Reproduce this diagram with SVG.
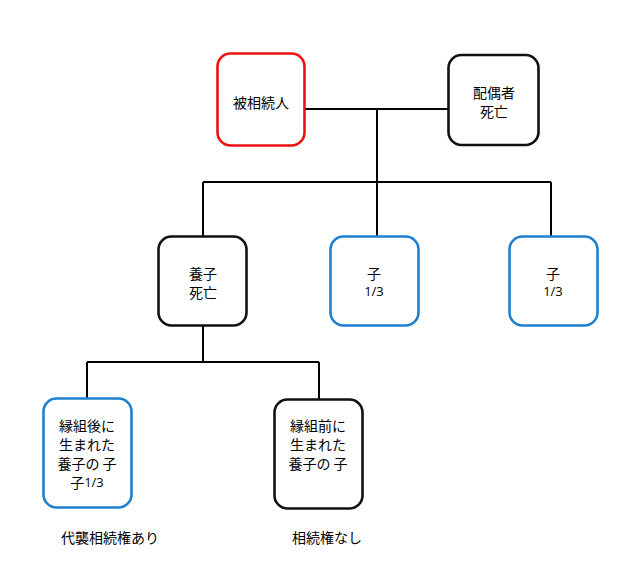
<svg xmlns="http://www.w3.org/2000/svg" width="635" height="569" viewBox="0 0 635 569">
<style>
.box{fill:#fff;stroke-width:2.6}
.red{stroke:#ee1111}
.blk{stroke:#111}
.blu{stroke:#1f7fd0}
.t{font-family:"Noto Sans CJK JP","Noto Sans",sans-serif;font-size:14px;fill:#000;text-anchor:middle;dominant-baseline:central}
.n{font-family:"Open Sans","Liberation Sans",sans-serif;font-size:13px}
.c{fill:none;stroke:#000;stroke-width:2}
</style>
<rect width="635" height="569" fill="#fff"/>
<g id="connectors">
<path class="c" d="M305 109H448M377 109V182M203 182H551M203 182V236M377 182V236M551 182V236"/>
<path class="c" d="M203 325V362M87 362H319M87 362V398M319 362V399"/>
</g>
<g id="decedent">
<rect class="box red" x="217.5" y="53.5" width="87" height="92" rx="13"/>
<text class="t" x="261" y="102">被相続人</text>
</g>
<g id="spouse">
<rect class="box blk" x="448.5" y="55" width="90" height="90" rx="13"/>
<text class="t" x="494" y="92">配偶者</text>
<text class="t" x="494" y="111">死亡</text>
</g>
<g id="adopted">
<rect class="box blk" x="158.5" y="236.5" width="88" height="89" rx="13"/>
<text class="t" x="203" y="273">養子</text>
<text class="t" x="203" y="292">死亡</text>
</g>
<g id="child1">
<rect class="box blu" x="330.5" y="236.5" width="88" height="89" rx="13"/>
<text class="t" x="374" y="273">子</text>
<text class="t n" x="374" y="291">1/3</text>
</g>
<g id="child2">
<rect class="box blu" x="509.5" y="236.5" width="88" height="89" rx="13"/>
<text class="t" x="553" y="273">子</text>
<text class="t n" x="553" y="291">1/3</text>
</g>
<g id="grandchild-after">
<rect class="box blu" x="43.5" y="398.5" width="88" height="109" rx="13"/>
<text class="t" x="87" y="425">縁組後に</text>
<text class="t" x="87" y="444">生まれた</text>
<text class="t" x="87" y="463">養子の 子</text>
<text class="t" x="87" y="482">子<tspan class="n">1/3</tspan></text>
</g>
<g id="grandchild-before">
<rect class="box blk" x="274.5" y="399.5" width="88" height="109" rx="13"/>
<text class="t" x="318" y="425">縁組前に</text>
<text class="t" x="318" y="444">生まれた</text>
<text class="t" x="318" y="463">養子の 子</text>
</g>
<g id="labels">
<text class="t" x="110" y="537">代襲相続権あり</text>
<text class="t" x="327" y="537">相続権なし</text>
</g>
</svg>
